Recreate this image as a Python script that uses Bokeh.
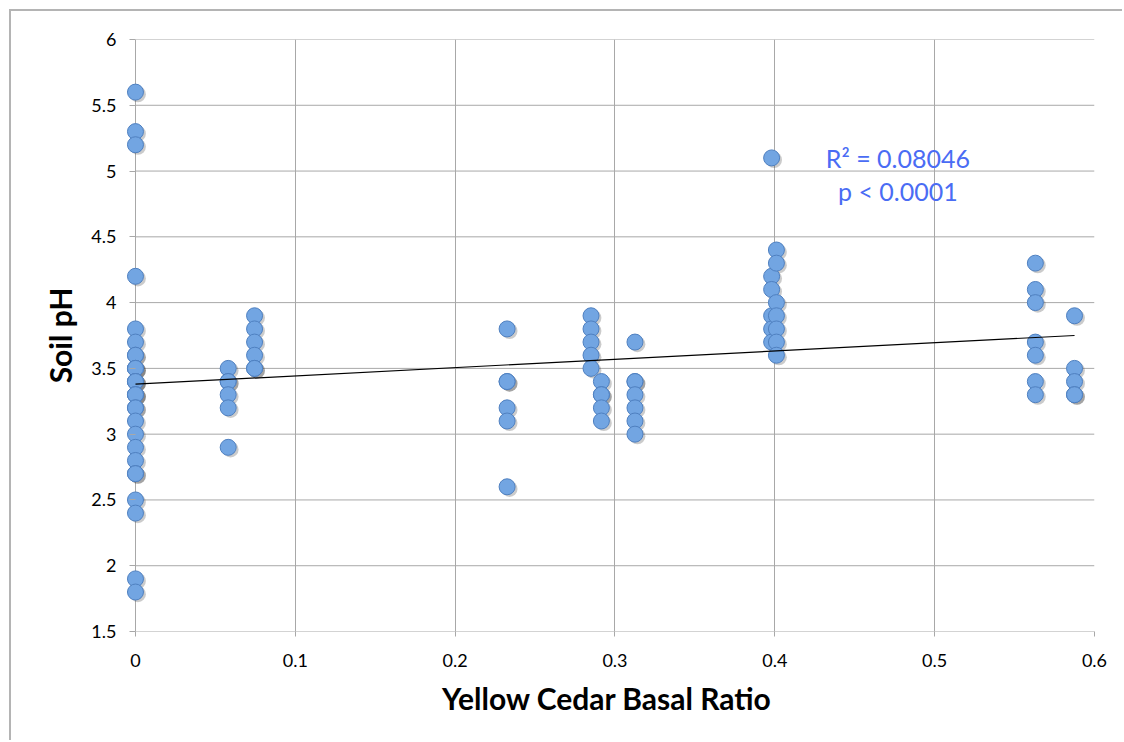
from bokeh.plotting import figure
from bokeh.models import FixedTicker, CustomJSTickFormatter, Label, ColumnDataSource
from bokeh.transform import dodge
from bokeh.embed import file_html
from bokeh.resources import INLINE

# Yellow cedar basal ratio of each site and the soil pH samples taken there
site_ratio = [0.0, 0.058, 0.0745, 0.2325, 0.285, 0.2915, 0.3125, 0.398, 0.401, 0.563, 0.5875]
ph_site0 = [5.6, 5.3, 5.2, 4.2, 3.8, 3.7, 3.6, 3.6, 3.5, 3.5, 3.5, 3.4, 3.4, 3.4, 3.3, 3.3,
            3.3, 3.2, 3.2, 3.1, 3.0, 2.9, 2.8, 2.7, 2.7, 2.5, 2.4, 1.9, 1.8]
ph_site1 = [3.5, 3.4, 3.4, 3.3, 3.2, 2.9]
ph_site2 = [3.9, 3.8, 3.7, 3.6, 3.5, 3.5]
ph_site3 = [3.8, 3.4, 3.4, 3.2, 3.1, 2.6]
ph_site4 = [3.9, 3.8, 3.7, 3.6, 3.5]
ph_site5 = [3.4, 3.3, 3.3, 3.2, 3.1]
ph_site6 = [3.7, 3.4, 3.4, 3.3, 3.2, 3.1, 3.0]
ph_site7 = [5.1, 4.2, 4.1, 3.9, 3.8, 3.7]
ph_site8 = [4.4, 4.3, 4.0, 3.9, 3.8, 3.7, 3.6]
ph_site9 = [4.3, 4.1, 4.0, 3.7, 3.6, 3.4, 3.3]
ph_site10 = [3.9, 3.5, 3.4, 3.3, 3.3]
site_ph = [ph_site0, ph_site1, ph_site2, ph_site3, ph_site4, ph_site5,
           ph_site6, ph_site7, ph_site8, ph_site9, ph_site10]

# linear trend line and its fit statistics
trend_intercept = 3.38
trend_slope = 0.63
r_squared = "0.08046"
p_value = "0.0001"

x_ticks = [0, 0.1, 0.2, 0.3, 0.4, 0.5, 0.6]
y_ticks = [1.5, 2, 2.5, 3, 3.5, 4, 4.5, 5, 5.5, 6]

xs, ys = [], []
for r, vals in zip(site_ratio, site_ph):
    xs.extend([r] * len(vals))
    ys.extend(vals)
src = ColumnDataSource(dict(x=xs, y=ys))

GRID = "#a8a8a8"
FONT = "Lato"

# a small margin left of zero keeps the zero-ratio markers unclipped
p = figure(width=1113, height=731, output_backend="svg", toolbar_location=None,
           x_range=(-0.01, 0.6), y_range=(1.5, 6),
           min_border_left=108, min_border_right=30, min_border_top=28, min_border_bottom=111,
           styles={"margin-left": "9px", "margin-top": "9px",
                   "border-left": "2px solid #b4b4b4", "border-top": "2px solid #b4b4b4"})
p.outline_line_color = None
p.background_fill_color = "white"
p.border_fill_color = "white"

p.xaxis.ticker = FixedTicker(ticks=x_ticks)
p.yaxis.ticker = FixedTicker(ticks=y_ticks)
fmt = CustomJSTickFormatter(code="return String(Math.round(tick * 10) / 10);")
p.xaxis.formatter = fmt
p.yaxis.formatter = fmt

for ax in (p.xaxis, p.yaxis):
    ax.axis_line_color = None
    ax.major_tick_line_color = GRID
    ax.minor_tick_line_color = None
    ax.major_label_text_font = FONT
    ax.major_label_text_font_size = "18px"
    ax.major_label_text_color = "black"
    ax.axis_label_text_font = FONT
    ax.axis_label_text_font_style = "bold"
    ax.axis_label_text_font_size = "30px"
    ax.axis_label_text_color = "black"

p.xaxis.major_tick_in = 0
p.xaxis.major_tick_out = 5
# y ticks run from the zero line 6px to the left
p.yaxis.major_tick_in = 16
p.yaxis.major_tick_out = -10
p.xaxis.major_label_standoff = 17
p.yaxis.major_label_standoff = 3
p.xaxis.axis_label = "Yellow Cedar Basal Ratio"
p.yaxis.axis_label = "Soil pH"
p.xaxis.axis_label_standoff = 10
p.yaxis.axis_label_standoff = 10

p.xgrid.grid_line_color = GRID
p.ygrid.grid_line_color = None

# horizontal grid lines start at zero ratio
p.segment(x0=[0] * len(y_ticks), x1=[0.6] * len(y_ticks), y0=y_ticks, y1=y_ticks,
          line_color=GRID, line_width=1)

# soft drop shadow under each marker
p.scatter(x=dodge("x", 0.0015, range=p.x_range), y=dodge("y", -0.016, range=p.y_range),
          source=src, size=16, fill_color="#303030", fill_alpha=0.25, line_color=None)
p.scatter(x="x", y="y", source=src, size=16, fill_color="#72a5e2",
          line_color="#4f80c0", line_width=1)

# trend line across the sampled ratio span
x_end = max(site_ratio)
p.line([0, x_end], [trend_intercept, trend_intercept + trend_slope * x_end],
       line_color="black", line_width=1.2)

for txt, yy in ((f"R\u00b2 = {r_squared}", 5.1), (f"p < {p_value}", 4.85)):
    p.add_layout(Label(x=0.477, y=yy, text=txt, text_align="center", text_baseline="middle",
                       text_font=FONT, text_font_size="25px", text_color="#4a6cf4"))

open("out.html", "w").write(file_html(p, INLINE))
